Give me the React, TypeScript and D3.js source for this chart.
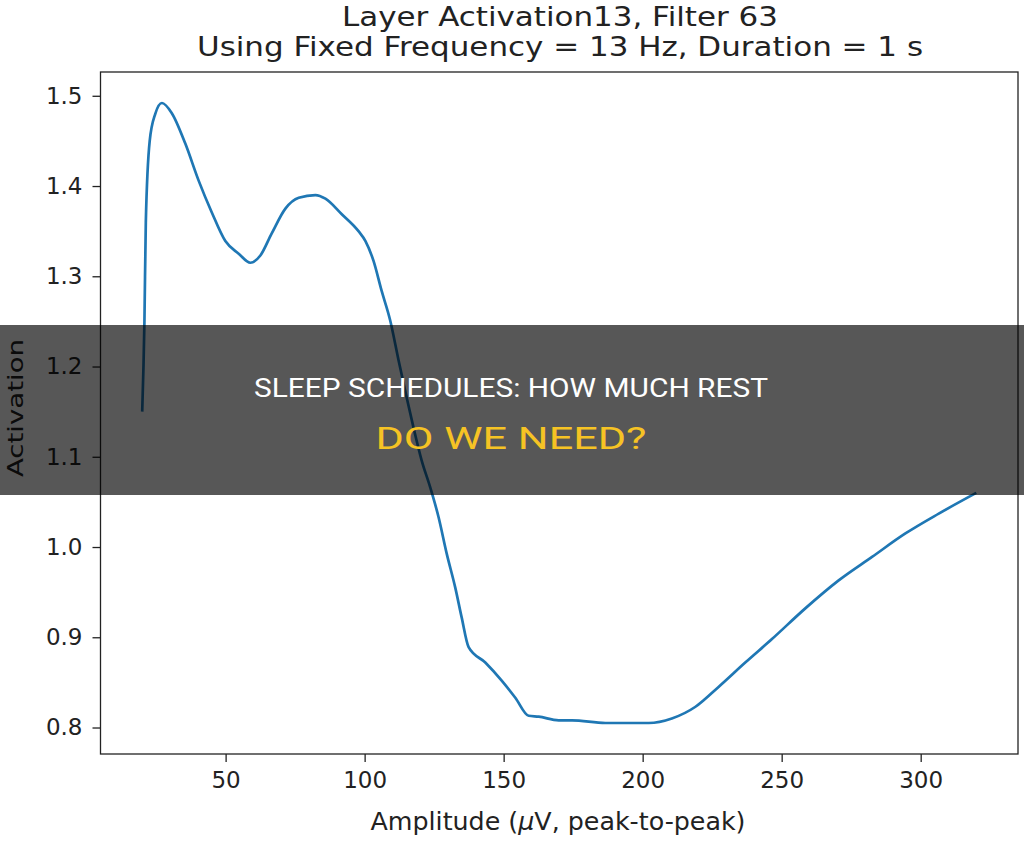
import React, { useEffect, useRef } from 'react';
import * as d3 from 'd3';

// values
const amplitude = [
  20, 20.8, 21.3, 22.7, 24.7, 27.1, 30.6, 35.5, 40.3, 45, 49.9, 54.7, 58.9, 62.5, 66.5,
  71.5, 76.3, 82.3, 85.9, 91.7, 97.8, 100.3, 103.2, 106.1, 109.2, 112.2, 115.1, 117.6,
  120.5, 123.6, 126.6, 129.5, 132.6, 134.9, 137.4, 143.4, 149.3, 154.2, 159, 162.6,
  169.8, 174.6, 186.6, 202.2, 210.5, 219, 227.3, 236.9, 246.5, 258.5, 270.5, 282.5,
  294.5, 306.5, 320,
];
const activation = [
  1.15, 1.25, 1.36, 1.45, 1.48, 1.492, 1.481, 1.447, 1.406, 1.371, 1.339, 1.325, 1.315,
  1.323, 1.347, 1.375, 1.387, 1.39, 1.386, 1.369, 1.35, 1.339, 1.317, 1.284, 1.251,
  1.207, 1.166, 1.132, 1.096, 1.066, 1.033, 0.993, 0.955, 0.922, 0.889, 0.872, 0.852,
  0.833, 0.813, 0.812, 0.808, 0.808, 0.805, 0.805, 0.81, 0.823, 0.845, 0.872, 0.898,
  0.932, 0.963, 0.989, 1.015, 1.037, 1.06,
];
const xTicks = [50, 100, 150, 200, 250, 300];
const yTicks = [0.8, 0.9, 1.0, 1.1, 1.2, 1.3, 1.4, 1.5];

const titleLines = ['Layer Activation13, Filter 63', 'Using Fixed Frequency = 13 Hz, Duration = 1 s'];
const titleWidths = [436, 726];
const bannerLines = ['SLEEP SCHEDULES: HOW MUCH REST', 'DO WE NEED?'];

const W = 1024;
const H = 841;
const margin = { left: 100.5, right: 1018, top: 72, bottom: 754 };
const font = 'DejaVu Sans, sans-serif';
const bannerFont = 'Liberation Sans Narrow, Roboto, sans-serif';

export default function App() {
  const ref = useRef<SVGSVGElement>(null);

  useEffect(() => {
    const svg = d3.select(ref.current);
    svg.selectAll('*').remove();

    const points = amplitude.map((a, i) => [a, activation[i]] as [number, number]);

    const yMin = d3.min(activation)!;
    const yMax = d3.max(activation)!;
    const yPad = (yMax - yMin) * 0.05;
    const xPad = (d3.max(amplitude)! - d3.min(amplitude)!) * 0.05;

    const x = d3.scaleLinear()
      .domain([d3.min(amplitude)! - xPad, d3.max(amplitude)! + xPad])
      .range([margin.left, margin.right]);
    const y = d3.scaleLinear()
      .domain([yMin - yPad, yMax + yPad])
      .range([margin.bottom, margin.top]);

    svg.append('rect').attr('width', W).attr('height', H).attr('fill', '#fff');

    // title
    svg.selectAll('text.title')
      .data(titleLines)
      .enter()
      .append('text')
      .attr('class', 'title')
      .attr('x', 560)
      .attr('y', (d, i) => 26 + i * 30)
      .attr('text-anchor', 'middle')
      .attr('font-family', font)
      .attr('font-size', 26)
      .attr('textLength', (d, i) => titleWidths[i])
      .attr('lengthAdjust', 'spacingAndGlyphs')
      .attr('fill', '#222')
      .text(d => d);

    const line = d3.line<[number, number]>()
      .x(d => x(d[0]))
      .y(d => y(d[1]))
      .curve(d3.curveMonotoneX);

    svg.append('path')
      .datum(points)
      .attr('d', line)
      .attr('fill', 'none')
      .attr('stroke', '#1f77b4')
      .attr('stroke-width', 2.7)
      .attr('stroke-linejoin', 'round');

    const xAxis = d3.axisBottom(x).tickValues(xTicks).tickSize(8).tickPadding(10).tickFormat(d3.format('d'));
    const yAxis = d3.axisLeft(y).tickValues(yTicks).tickSize(8).tickPadding(10).tickFormat(d3.format('.1f'));

    const gx = svg.append('g')
      .attr('transform', `translate(0,${margin.bottom})`)
      .call(xAxis);
    const gy = svg.append('g')
      .attr('transform', `translate(${margin.left},0)`)
      .call(yAxis);

    [gx, gy].forEach(g => {
      g.select('.domain').remove();
      g.selectAll('line').attr('stroke', '#222').attr('stroke-width', 1.3);
      g.selectAll('text').attr('font-family', font).attr('font-size', 23).attr('fill', '#222');
    });

    // spines
    svg.append('rect')
      .attr('x', margin.left)
      .attr('y', margin.top)
      .attr('width', margin.right - margin.left)
      .attr('height', margin.bottom - margin.top)
      .attr('fill', 'none')
      .attr('stroke', '#222')
      .attr('stroke-width', 1.3);

    const xl = svg.append('text')
      .attr('x', 558)
      .attr('y', 830)
      .attr('text-anchor', 'middle')
      .attr('font-family', font)
      .attr('font-size', 24)
      .attr('textLength', 375)
      .attr('lengthAdjust', 'spacingAndGlyphs')
      .attr('fill', '#222');
    xl.append('tspan').text('Amplitude (');
    xl.append('tspan').attr('font-style', 'italic').text('μ');
    xl.append('tspan').text('V, peak-to-peak)');

    svg.append('text')
      .attr('transform', `translate(23,408) rotate(-90)`)
      .attr('text-anchor', 'middle')
      .attr('font-family', font)
      .attr('font-size', 22)
      .attr('textLength', 138)
      .attr('lengthAdjust', 'spacingAndGlyphs')
      .attr('fill', '#222')
      .text('Activation');

    // overlay banner
    svg.append('rect')
      .attr('x', 0)
      .attr('y', 325)
      .attr('width', W)
      .attr('height', 170)
      .attr('fill', '#000')
      .attr('fill-opacity', 0.66);

    svg.append('text')
      .attr('x', 511)
      .attr('y', 397)
      .attr('text-anchor', 'middle')
      .attr('font-family', bannerFont)
      .attr('font-size', 25)
      .attr('textLength', 514)
      .attr('lengthAdjust', 'spacingAndGlyphs')
      .attr('fill', '#fff')
      .text(bannerLines[0]);

    svg.append('text')
      .attr('x', 511)
      .attr('y', 449)
      .attr('text-anchor', 'middle')
      .attr('font-family', bannerFont)
      .attr('font-size', 32)
      .attr('textLength', 271)
      .attr('lengthAdjust', 'spacingAndGlyphs')
      .attr('fill', '#f6c324')
      .text(bannerLines[1]);
  }, []);

  return (
    <div>
      <svg ref={ref} width={W} height={H} style={{ position: 'absolute', left: 0, top: 0 }} />
    </div>
  );
}
